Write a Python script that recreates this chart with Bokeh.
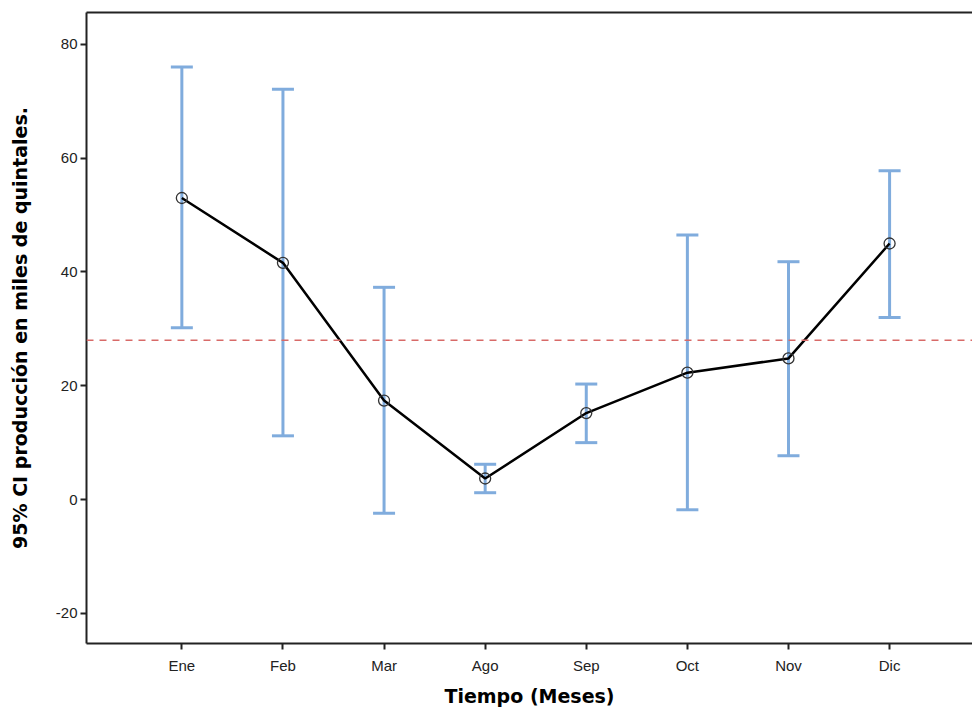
from bokeh.plotting import figure
from bokeh.models import (ColumnDataSource, Whisker, TeeHead, Span, Range1d,
                          FixedTicker, LinearAxis)
from bokeh.embed import file_html
from bokeh.resources import INLINE

# Data
months = ["Ene", "Feb", "Mar", "Ago", "Sep", "Oct", "Nov", "Dic"]
mean_vals = [53.0, 41.6, 17.4, 3.7, 15.2, 22.3, 24.8, 45.0]
upper_ci = [76.0, 72.1, 37.3, 6.2, 20.3, 46.5, 41.8, 57.8]
lower_ci = [30.2, 11.2, -2.4, 1.2, 10.0, -1.8, 7.7, 32.0]
ref_value = 28.0
y_ticks = [-20, 0, 20, 40, 60, 80]

xpos = list(range(1, len(months) + 1))
src = ColumnDataSource(dict(x=xpos, m=mean_vals, up=upper_ci, lo=lower_ci))

p = figure(width=972, height=710, output_backend="svg", toolbar_location=None,
           x_range=Range1d(0.057, 8.82), y_range=Range1d(-25.3, 85.6),
           x_axis_label="Tiempo (Meses)",
           y_axis_label="95% CI producción en miles de quintales.",
           min_border_left=86, min_border_top=12, min_border_right=0,
           min_border_bottom=67)
p.outline_line_color = None
p.background_fill_color = "white"
p.border_fill_color = "white"
p.grid.visible = False

blue = "#80ACDD"
wh = Whisker(base="x", upper="up", lower="lo", source=src,
             line_color=blue, line_width=3,
             upper_head=TeeHead(size=22, line_color=blue, line_width=3),
             lower_head=TeeHead(size=22, line_color=blue, line_width=3))
p.add_layout(wh)

p.add_layout(Span(location=ref_value, dimension="width", line_color="#D86A68",
                  line_dash="7 6", line_width=1.3))

p.line("x", "m", source=src, line_color="black", line_width=2.5)
p.scatter("x", "m", source=src, size=11, fill_color=None,
          line_color="#333333", line_width=1.3)

# Axes styling
for ax in (p.xaxis[0], p.yaxis[0]):
    ax.axis_line_color = "#222222"
    ax.axis_line_width = 2
    ax.major_tick_line_color = "#222222"
    ax.major_tick_line_width = 2
    ax.major_tick_out = 6
    ax.major_tick_in = 0
    ax.minor_tick_line_color = None
    ax.major_label_text_font = "Liberation Sans"
    ax.major_label_text_font_size = "15px"
    ax.major_label_text_color = "#222222"
    ax.axis_label_text_font = "DejaVu Sans"
    ax.axis_label_text_font_style = "bold"
    ax.axis_label_text_font_size = "19px"
    ax.axis_label_text_color = "black"

p.xaxis[0].ticker = FixedTicker(ticks=xpos)
p.xaxis[0].major_label_overrides = {i: m for i, m in zip(xpos, months)}
p.xaxis[0].major_label_standoff = 7
p.xaxis[0].axis_label_standoff = 8

p.yaxis[0].ticker = FixedTicker(ticks=y_ticks)
p.yaxis[0].major_label_overrides = {t: str(t) for t in y_ticks}
p.yaxis[0].major_label_standoff = 3
p.yaxis[0].axis_label_standoff = 22

top = LinearAxis(ticker=FixedTicker(ticks=[]), axis_line_color="#222222",
                 axis_line_width=2, major_tick_out=0, major_tick_in=0,
                 major_label_standoff=0, major_label_text_font_size="0px",
                 minor_tick_out=0, minor_tick_in=0)
p.add_layout(top, "above")

open("out.html", "w").write(file_html(p, INLINE))
